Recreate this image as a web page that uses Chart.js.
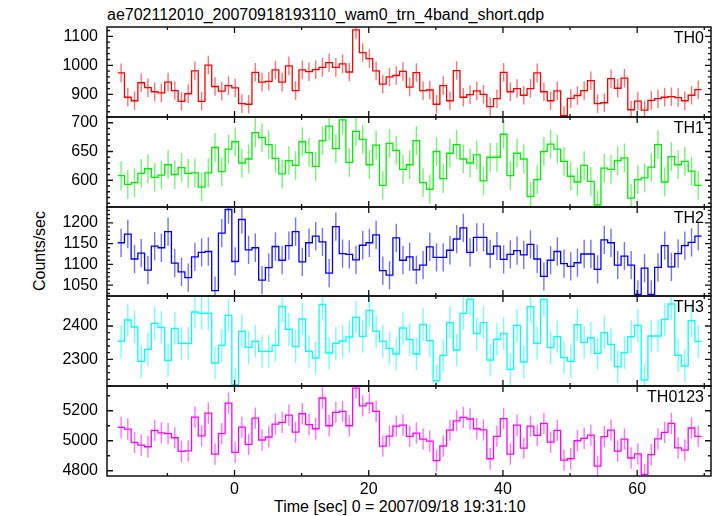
<!DOCTYPE html>
<html lang="en">
<head>
  <meta charset="UTF-8">
  <title>ae702112010 WAM light curve</title>
  <script src="https://cdn.jsdelivr.net/npm/chart.js"></script>
  <style>
    body {
      margin: 0;
      background: #fff;
      color: #000;
      font-family: 'Liberation Sans', Arial, sans-serif;
    }
    #plot {
      position: relative;
      width: 717px;
      height: 516px;
      overflow: hidden;
    }
    #plot canvas {
      position: absolute;
      left: 0;
      top: 0;
    }
    .txt {
      position: absolute;
      font-size: 16px;
      line-height: 16px;
      white-space: nowrap;
    }
    .tag { right: 13px; }
    #ytitle {
      left: 40px;
      top: 251px;
      transform: translate(-50%, -50%) rotate(-90deg);
    }
  </style>
</head>
<body>
  <div id="plot">
    <div class="txt" style="left:107px; top:7px">ae702112010_20070918193110_wam0_trn_4band_short.qdp</div>
    <div class="txt" id="ytitle">Counts/sec</div>
    <div class="txt" style="left:274px; top:499px">Time [sec] 0 = 2007/09/18 19:31:10</div>
  </div>

  <script>
    // bin centres (s), 1 s bins
    const timeSec = [-16.9, -15.9, -14.9, -13.9, -12.9, -11.9, -10.9, -9.9, -8.9, -7.9,
      -6.9, -5.9, -4.9, -3.9, -2.9, -1.9, -0.9, 0.1, 1.1, 2.1,
      3.1, 4.1, 5.1, 6.1, 7.1, 8.1, 9.1, 10.1, 11.1, 12.1,
      13.1, 14.1, 15.1, 16.1, 17.1, 18.1, 19.1, 20.1, 21.1, 22.1,
      23.1, 24.1, 25.1, 26.1, 27.1, 28.1, 29.1, 30.1, 31.1, 32.1,
      33.1, 34.1, 35.1, 36.1, 37.1, 38.1, 39.1, 40.1, 41.1, 42.1,
      43.1, 44.1, 45.1, 46.1, 47.1, 48.1, 49.1, 50.1, 51.1, 52.1,
      53.1, 54.1, 55.1, 56.1, 57.1, 58.1, 59.1, 60.1, 61.1, 62.1,
      63.1, 64.1, 65.1, 66.1, 67.1, 68.1, 69.1];
    const binWidth = 1;

    const th0 = [974, 890, 878, 940, 923, 909, 905, 942, 913, 876,
      902, 981, 876, 1001, 927, 911, 930, 922, 868, 866,
      976, 942, 945, 984, 942, 998, 913, 984, 978, 985,
      993, 1009, 993, 1005, 977, 1122, 1044, 1023, 981, 935,
      960, 965, 979, 925, 975, 913, 915, 866, 930, 878,
      982, 890, 899, 912, 900, 858, 885, 976, 909, 920,
      897, 920, 974, 909, 878, 912, 827, 886, 896, 913,
      947, 868, 871, 954, 921, 956, 847, 877, 846, 879,
      885, 890, 892, 889, 878, 897, 916];
    const th1 = [608, 593, 596, 612, 620, 605, 609, 627, 610, 622,
      612, 613, 588, 613, 657, 615, 654, 667, 630, 637,
      683, 674, 662, 638, 611, 634, 626, 667, 648, 624,
      669, 694, 655, 705, 631, 685, 671, 627, 661, 591,
      664, 652, 619, 627, 669, 596, 584, 650, 603, 647,
      662, 637, 630, 644, 599, 640, 640, 680, 608, 647,
      637, 572, 601, 650, 663, 654, 633, 607, 597, 626,
      598, 557, 621, 619, 634, 639, 569, 601, 604, 623,
      662, 597, 641, 627, 633, 616, 591];
    const th2 = [1152, 1173, 1113, 1127, 1086, 1144, 1140, 1179, 1103, 1082,
      1068, 1118, 1129, 1131, 1037, 1175, 1232, 1107, 1208, 1135,
      1140, 1062, 1092, 1143, 1110, 1145, 1179, 1106, 1152, 1168,
      1154, 1079, 1191, 1126, 1124, 1111, 1146, 1152, 1171, 1085,
      1074, 1164, 1110, 1118, 1087, 1098, 1142, 1117, 1117, 1134,
      1161, 1188, 1129, 1165, 1165, 1125, 1144, 1112, 1124, 1133,
      1123, 1148, 1113, 1071, 1110, 1131, 1102, 1095, 1104, 1125,
      1125, 1088, 1159, 1152, 1098, 1120, 1098, 1028, 1091, 1028,
      1093, 1145, 1094, 1126, 1145, 1153, 1168];
    const th3 = [2354, 2418, 2397, 2294, 2330, 2408, 2396, 2297, 2393, 2348,
      2348, 2442, 2438, 2438, 2289, 2342, 2432, 2224, 2384, 2336,
      2354, 2324, 2324, 2342, 2459, 2390, 2339, 2421, 2324, 2304,
      2465, 2319, 2348, 2355, 2367, 2426, 2369, 2447, 2384, 2354,
      2333, 2316, 2394, 2359, 2316, 2405, 2356, 2236, 2312, 2410,
      2328, 2438, 2480, 2377, 2410, 2298, 2360, 2377, 2270, 2402,
      2292, 2458, 2348, 2479, 2335, 2368, 2305, 2294, 2404, 2351,
      2364, 2318, 2380, 2345, 2278, 2320, 2368, 2402, 2238, 2370,
      2370, 2420, 2466, 2312, 2280, 2416, 2353];
    const th0123 = [5089, 5078, 4989, 4971, 4960, 5069, 5053, 5047, 5020, 4929,
      4933, 5158, 5033, 5184, 4911, 5047, 5251, 4922, 5091, 4976,
      5151, 5005, 5025, 5111, 5122, 5171, 5058, 5180, 5107, 5080,
      5285, 5100, 5189, 5196, 5100, 5351, 5233, 5251, 5196, 4964,
      5031, 5098, 5104, 5029, 5051, 5011, 4998, 4867, 4965, 5071,
      5133, 5156, 5145, 5080, 5072, 4880, 5029, 5147, 4911, 5104,
      4951, 5098, 5036, 5116, 4991, 5069, 4871, 4880, 5000, 5016,
      5038, 4831, 5027, 5071, 4931, 5011, 4885, 4913, 4776, 4907,
      5013, 5056, 5116, 4953, 4938, 5085, 5029];

    // typical 1-sigma error of one bin
    const th0Err = 32, th1Err = 25, th2Err = 34, th3Err = 49, th0123Err = 71;

    const xTicks = [0, 20, 40, 60];
    const th0Ticks = [900, 1000, 1100];
    const th1Ticks = [600, 650, 700];
    const th2Ticks = [1050, 1100, 1150, 1200];
    const th3Ticks = [2300, 2400];
    const th0123Ticks = [4800, 5000, 5200];

    const panels = [
      { name: 'TH0', values: th0, err: th0Err, ticks: th0Ticks, color: '#ff0000', min: 822, max: 1132, major: 100, minor: 20 },
      { name: 'TH1', values: th1, err: th1Err, ticks: th1Ticks, color: '#00ee00', min: 553.5, max: 710, major: 50, minor: 10 },
      { name: 'TH2', values: th2, err: th2Err, ticks: th2Ticks, color: '#0000ff', min: 1024, max: 1238, major: 50, minor: 10 },
      { name: 'TH3', values: th3, err: th3Err, ticks: th3Ticks, color: '#00ffff', min: 2220, max: 2490, major: 100, minor: 20 },
      { name: 'TH0123', values: th0123, err: th0123Err, ticks: th0123Ticks, color: '#ff00ff', min: 4765, max: 5365, major: 200, minor: 100 }
    ];
    const edges = [27, 117, 207, 296, 386, 476];
    const W = 717, H = 516;

    Chart.defaults.font.family = "'Liberation Sans', Arial, sans-serif";
    Chart.defaults.font.size = 16;
    Chart.defaults.color = '#000';

    function stepPoints(values) {
      const pts = values.map((v, i) => ({ x: timeSec[i] - binWidth / 2, y: v }));
      pts.push({ x: timeSec[timeSec.length - 1] + binWidth / 2, y: values[values.length - 1] });
      return pts;
    }

    // error bars behind the histogram, frame + inward ticks on top
    const qdpPlugin = {
      id: 'qdp',
      beforeDatasetsDraw(chart, args, opts) {
        const { ctx, chartArea: a, scales: { x, y } } = chart;
        ctx.save();
        ctx.beginPath();
        ctx.rect(a.left, a.top, a.right - a.left, a.bottom - a.top);
        ctx.clip();
        ctx.strokeStyle = opts.color;
        ctx.globalAlpha = 0.55;
        ctx.lineWidth = 1.4;
        ctx.beginPath();
        opts.values.forEach((v, i) => {
          const px = x.getPixelForValue(timeSec[i]);
          ctx.moveTo(px, y.getPixelForValue(v - opts.err));
          ctx.lineTo(px, y.getPixelForValue(v + opts.err));
        });
        ctx.stroke();
        ctx.restore();
      },
      afterDatasetsDraw(chart, args, opts) {
        const { ctx, chartArea: a, scales: { x, y } } = chart;
        ctx.save();
        ctx.strokeStyle = '#111';
        ctx.lineWidth = 1.3;
        ctx.beginPath();
        for (let v = -10; v <= x.max; v += 10) {
          const px = x.getPixelForValue(v);
          const len = v % 20 === 0 ? 6 : 3;
          ctx.moveTo(px, a.bottom); ctx.lineTo(px, a.bottom - len);
          ctx.moveTo(px, a.top); ctx.lineTo(px, a.top + len);
        }
        const start = Math.ceil(y.min / opts.minor) * opts.minor;
        for (let v = start; v <= y.max; v += opts.minor) {
          const py = y.getPixelForValue(v);
          const len = v % opts.major === 0 ? 6 : 3;
          ctx.moveTo(a.left, py); ctx.lineTo(a.left + len, py);
          ctx.moveTo(a.right, py); ctx.lineTo(a.right - len, py);
        }
        ctx.stroke();
        ctx.lineWidth = 1.5;
        ctx.strokeRect(a.left, a.top, a.right - a.left, a.bottom - a.top);
        ctx.restore();
      }
    };

    const plot = document.getElementById('plot');

    panels.forEach((p, k) => {
      const last = k === panels.length - 1;
      const top = edges[k], bottom = edges[k + 1];

      const canvas = document.createElement('canvas');
      canvas.width = W;
      canvas.height = H;
      plot.appendChild(canvas);

      const tag = document.createElement('div');
      tag.className = 'txt tag';
      tag.style.top = (top + 3) + 'px';
      tag.textContent = p.name;
      plot.appendChild(tag);

      new Chart(canvas, {
        type: 'line',
        data: {
          datasets: [{
            data: stepPoints(p.values),
            stepped: true,
            borderColor: p.color,
            borderWidth: 1.3,
            pointRadius: 0,
            fill: false
          }]
        },
        options: {
          responsive: false,
          animation: false,
          events: [],
          layout: { padding: { top: top, bottom: last ? 0 : H - bottom, left: 0, right: 6 } },
          plugins: {
            legend: { display: false },
            tooltip: { enabled: false },
            qdp: { values: p.values, err: p.err, color: p.color, major: p.major, minor: p.minor }
          },
          scales: {
            x: {
              type: 'linear',
              min: -19,
              max: 71,
              display: last,
              grid: { display: false, drawTicks: false },
              border: { display: false },
              afterBuildTicks: s => { s.ticks = xTicks.map(v => ({ value: v })); },
              afterFit: s => { s.height = last ? H - bottom : 0; },
              ticks: { padding: 4, maxRotation: 0, autoSkip: false, callback: v => String(v) }
            },
            y: {
              type: 'linear',
              min: p.min,
              max: p.max,
              grid: { display: false, drawTicks: false },
              border: { display: false },
              afterBuildTicks: s => { s.ticks = p.ticks.map(v => ({ value: v })); },
              afterFit: s => { s.width = 107; },
              ticks: { padding: 9, autoSkip: false, callback: v => String(v) }
            }
          }
        },
        plugins: [qdpPlugin]
      });
    });
  </script>
</body>
</html>
